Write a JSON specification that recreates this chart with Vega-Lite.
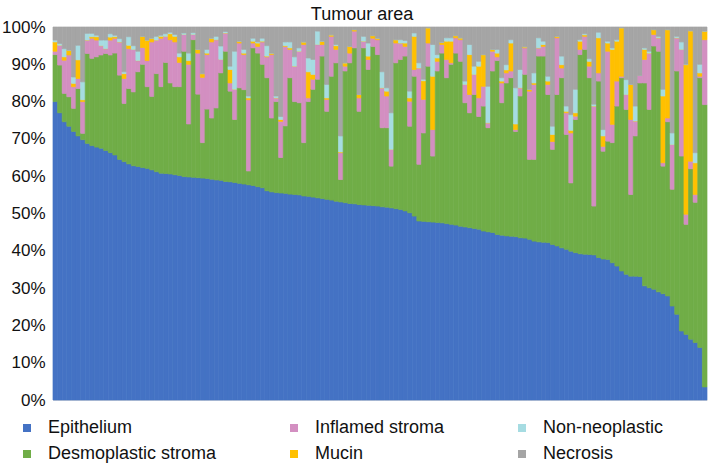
{
  "$schema": "https://vega.github.io/schema/vega-lite/v6.json",
  "autosize": {"type": "none"},
  "width": 654,
  "height": 373,
  "padding": {"left": 53, "top": 27, "right": 2, "bottom": 66},
  "background": "white",
  "config": {"view": {"stroke": null}, "font": "Liberation Sans"},
  "title": {"text": "Tumour area", "fontSize": 18, "fontWeight": "normal", "font": "Liberation Sans", "color": "#111111", "offset": -6, "dx": -18},
  "datasets": {
    "cats": [
      {"k": "e", "label": "Epithelium", "o": 1},
      {"k": "d", "label": "Desmoplastic stroma", "o": 2},
      {"k": "i", "label": "Inflamed stroma", "o": 3},
      {"k": "m", "label": "Mucin", "o": 4},
      {"k": "n", "label": "Non-neoplastic", "o": 5},
      {"k": "x", "label": "Necrosis", "o": 6}
    ],
    "bars": [
      {"id":0,"e":80,"d":12.6,"i":0.9,"m":2.5,"n":0.5,"x":3.5},
      {"id":1,"e":77,"d":12.8,"i":5.3,"m":0,"n":0.5,"x":4.4},
      {"id":2,"e":74.6,"d":7.6,"i":8.9,"m":0.9,"n":2.2,"x":5.8},
      {"id":3,"e":73.4,"d":7.9,"i":11.2,"m":1.3,"n":0,"x":6.2},
      {"id":4,"e":72,"d":6.2,"i":5.8,"m":0.9,"n":1.7,"x":13.4},
      {"id":5,"e":70.8,"d":12.7,"i":2.7,"m":5,"n":3.9,"x":4.9},
      {"id":6,"e":69.8,"d":1.7,"i":8.5,"m":0.5,"n":4.8,"x":14.7},
      {"id":7,"e":68.8,"d":24.1,"i":3.6,"m":0,"n":1.8,"x":1.7},
      {"id":8,"e":68.2,"d":23.4,"i":5.4,"m":0.4,"n":0.9,"x":1.7},
      {"id":9,"e":67.8,"d":24.2,"i":4.5,"m":0.9,"n":0.4,"x":2.2},
      {"id":10,"e":67.5,"d":25,"i":2.5,"m":0,"n":1.5,"x":3.5},
      {"id":11,"e":66.9,"d":26,"i":1.3,"m":0,"n":2.3,"x":3.5},
      {"id":12,"e":66.3,"d":26.2,"i":4,"m":0.8,"n":0.9,"x":1.8},
      {"id":13,"e":65.7,"d":27.3,"i":4,"m":0.4,"n":0.4,"x":2.2},
      {"id":14,"e":64.5,"d":22.6,"i":8.9,"m":0,"n":0.9,"x":3.1},
      {"id":15,"e":63.9,"d":15.6,"i":6.7,"m":1.3,"n":0.5,"x":12},
      {"id":16,"e":63.3,"d":20.2,"i":10.7,"m":0.9,"n":2.3,"x":2.6},
      {"id":17,"e":62.8,"d":19.8,"i":11.4,"m":0,"n":1,"x":5},
      {"id":18,"e":62.6,"d":25.4,"i":3,"m":0,"n":2.5,"x":6.5},
      {"id":19,"e":62.3,"d":27.7,"i":4.5,"m":3,"n":0,"x":2.5},
      {"id":20,"e":62.1,"d":21.9,"i":7,"m":5.5,"n":0,"x":3.5},
      {"id":21,"e":61.7,"d":19.7,"i":14.6,"m":1,"n":0,"x":3},
      {"id":22,"e":61.2,"d":26.3,"i":9,"m":0,"n":1,"x":2.5},
      {"id":23,"e":60.8,"d":23.2,"i":13,"m":0.5,"n":0.3,"x":2.2},
      {"id":24,"e":60.7,"d":29.8,"i":7,"m":0,"n":0.7,"x":1.8},
      {"id":25,"e":60.6,"d":24.4,"i":11.6,"m":1.6,"n":0.4,"x":1.4},
      {"id":26,"e":60.4,"d":23.6,"i":12,"m":1.5,"n":0.5,"x":2},
      {"id":27,"e":60.2,"d":23.8,"i":6.5,"m":1.5,"n":1,"x":7},
      {"id":28,"e":59.9,"d":33.6,"i":4.5,"m":0,"n":0.4,"x":1.6},
      {"id":29,"e":59.8,"d":14.2,"i":16,"m":1,"n":2,"x":7},
      {"id":30,"e":59.7,"d":36.9,"i":1.4,"m":0,"n":0.5,"x":1.5},
      {"id":31,"e":59.6,"d":22.4,"i":11,"m":1,"n":0,"x":6},
      {"id":32,"e":59.5,"d":9.5,"i":17.5,"m":1,"n":0,"x":12.5},
      {"id":33,"e":59.4,"d":18.6,"i":14.6,"m":0.4,"n":1,"x":6},
      {"id":34,"e":59.2,"d":16.4,"i":20.4,"m":1,"n":0,"x":3},
      {"id":35,"e":59,"d":19.3,"i":18.3,"m":0,"n":0.9,"x":2.5},
      {"id":36,"e":58.9,"d":28.8,"i":3.6,"m":0,"n":3.6,"x":5.1},
      {"id":37,"e":58.6,"d":34.9,"i":4.9,"m":0,"n":0.4,"x":1.2},
      {"id":38,"e":58.5,"d":24.3,"i":2.2,"m":3.6,"n":0.9,"x":10.5},
      {"id":39,"e":58.3,"d":16.9,"i":8.1,"m":0,"n":10.2,"x":6.5},
      {"id":40,"e":58.1,"d":25.6,"i":12,"m":0.5,"n":0,"x":3.8},
      {"id":41,"e":57.9,"d":25.3,"i":9.4,"m":0.4,"n":1,"x":6},
      {"id":42,"e":57.7,"d":3.7,"i":19.1,"m":0.5,"n":0.5,"x":18.5},
      {"id":43,"e":57.5,"d":36.9,"i":1.3,"m":0.5,"n":0.8,"x":3},
      {"id":44,"e":57.2,"d":35.8,"i":1.8,"m":0.9,"n":0.3,"x":4},
      {"id":45,"e":56.9,"d":33.1,"i":6,"m":0.2,"n":0.8,"x":3},
      {"id":46,"e":56.1,"d":30.3,"i":5.6,"m":0.2,"n":2.8,"x":5},
      {"id":47,"e":55.8,"d":19.8,"i":17,"m":0.4,"n":0,"x":7},
      {"id":48,"e":55.6,"d":24.4,"i":1,"m":0,"n":0.5,"x":18.5},
      {"id":49,"e":55.5,"d":9.5,"i":9.7,"m":0.5,"n":0.8,"x":24},
      {"id":50,"e":55.4,"d":18.1,"i":21.3,"m":0.2,"n":1,"x":4},
      {"id":51,"e":55.2,"d":31.2,"i":7.6,"m":0.4,"n":1.6,"x":4},
      {"id":52,"e":55.1,"d":24.9,"i":9.5,"m":0,"n":2.5,"x":8},
      {"id":53,"e":55,"d":24.7,"i":13.8,"m":0,"n":0.9,"x":5.6},
      {"id":54,"e":54.7,"d":14.3,"i":26.3,"m":0.7,"n":0,"x":4},
      {"id":55,"e":54.6,"d":25.4,"i":1,"m":7,"n":3.7,"x":8.3},
      {"id":56,"e":54.4,"d":28.9,"i":2.7,"m":1.3,"n":4,"x":8.7},
      {"id":57,"e":54.2,"d":31.8,"i":9.3,"m":0,"n":3.6,"x":1.1},
      {"id":58,"e":54,"d":38.2,"i":3.1,"m":0.9,"n":0,"x":3.8},
      {"id":59,"e":53.8,"d":23.6,"i":3.2,"m":0.4,"n":3.6,"x":15.4},
      {"id":60,"e":53.6,"d":33.2,"i":10.7,"m":0.4,"n":0,"x":2.1},
      {"id":61,"e":53.3,"d":37.1,"i":3.6,"m":1,"n":0.3,"x":4.7},
      {"id":62,"e":53.1,"d":6,"i":7.2,"m":0.2,"n":4.3,"x":29.2},
      {"id":63,"e":52.9,"d":35.3,"i":1.3,"m":0.9,"n":0,"x":9.6},
      {"id":64,"e":52.7,"d":37.7,"i":2.6,"m":1.8,"n":0,"x":5.2},
      {"id":65,"e":52.6,"d":41.8,"i":4.5,"m":0.4,"n":0,"x":0.7},
      {"id":66,"e":52.4,"d":25,"i":3.6,"m":0.9,"n":0,"x":18.1},
      {"id":67,"e":52.3,"d":42.1,"i":1.8,"m":0,"n":1.3,"x":2.5},
      {"id":68,"e":52.2,"d":36.4,"i":2.7,"m":0.9,"n":3.5,"x":4.3},
      {"id":69,"e":52.1,"d":42.7,"i":2.2,"m":0.7,"n":0,"x":2.3},
      {"id":70,"e":52,"d":40.6,"i":4,"m":0.4,"n":0,"x":3},
      {"id":71,"e":51.8,"d":21.2,"i":10.7,"m":0,"n":4.3,"x":12},
      {"id":72,"e":51.7,"d":21.3,"i":8.5,"m":1.3,"n":0.9,"x":16.3},
      {"id":73,"e":51.5,"d":11.2,"i":4.5,"m":0,"n":9.8,"x":23},
      {"id":74,"e":51.3,"d":39.1,"i":5.3,"m":0.9,"n":0,"x":3.4},
      {"id":75,"e":51.1,"d":40.2,"i":4.4,"m":0,"n":0.9,"x":3.4},
      {"id":76,"e":50.7,"d":41.5,"i":2.6,"m":0.9,"n":0.7,"x":3.6},
      {"id":77,"e":50.2,"d":23.2,"i":6.7,"m":0.9,"n":1.8,"x":17.2},
      {"id":78,"e":49.3,"d":37.5,"i":1.8,"m":8.9,"n":0.9,"x":1.6},
      {"id":79,"e":48,"d":15.2,"i":25.8,"m":0,"n":1.4,"x":9.6},
      {"id":80,"e":47.9,"d":23.7,"i":9,"m":5,"n":0.4,"x":14},
      {"id":81,"e":47.8,"d":41.7,"i":6.2,"m":4.1,"n":0,"x":0.2},
      {"id":82,"e":47.7,"d":17.7,"i":7.1,"m":14.3,"n":8.5,"x":4.7},
      {"id":83,"e":47.6,"d":40.6,"i":2.6,"m":0.9,"n":0.9,"x":7.4},
      {"id":84,"e":47.5,"d":45.5,"i":2.3,"m":0.6,"n":0,"x":4.1},
      {"id":85,"e":47.3,"d":39.1,"i":4.9,"m":4.9,"n":0.9,"x":2.9},
      {"id":86,"e":47.1,"d":42.9,"i":0.4,"m":5.8,"n":0.9,"x":2.9},
      {"id":87,"e":46.9,"d":46.1,"i":4.1,"m":0.6,"n":0,"x":2.3},
      {"id":88,"e":46.6,"d":44.2,"i":5.8,"m":0.5,"n":0,"x":2.9},
      {"id":89,"e":46.4,"d":33.3,"i":4.9,"m":0,"n":0.9,"x":14.5},
      {"id":90,"e":46.2,"d":30.8,"i":4.9,"m":10.7,"n":2.7,"x":4.7},
      {"id":91,"e":46,"d":35.9,"i":5.4,"m":0,"n":2.2,"x":10.5},
      {"id":92,"e":45.8,"d":30.2,"i":5,"m":8.5,"n":1.3,"x":9.2},
      {"id":93,"e":45.3,"d":33.5,"i":5.3,"m":8.5,"n":0,"x":7.4},
      {"id":94,"e":45.1,"d":27.9,"i":1.3,"m":0,"n":9.8,"x":15.9},
      {"id":95,"e":44.9,"d":43.3,"i":5.3,"m":0.5,"n":0,"x":6},
      {"id":96,"e":44.4,"d":46.6,"i":1,"m":1,"n":1,"x":6},
      {"id":97,"e":44.2,"d":35.5,"i":5.3,"m":0.5,"n":0.9,"x":13.6},
      {"id":98,"e":44,"d":41,"i":2.7,"m":0.8,"n":1.4,"x":10.1},
      {"id":99,"e":43.9,"d":42.5,"i":1.8,"m":7.5,"n":0.9,"x":3.4},
      {"id":100,"e":43.8,"d":28.2,"i":0.5,"m":1.5,"n":9.7,"x":16.3},
      {"id":101,"e":43.5,"d":38,"i":2.2,"m":0,"n":4.9,"x":11.4},
      {"id":102,"e":43.4,"d":43.9,"i":7.1,"m":0.3,"n":0,"x":5.3},
      {"id":103,"e":43.1,"d":21.4,"i":18.3,"m":0.5,"n":0,"x":16.7},
      {"id":104,"e":42.6,"d":21.9,"i":20.1,"m":0.4,"n":2.7,"x":12.3},
      {"id":105,"e":42.4,"d":49.8,"i":2.2,"m":0,"n":2.7,"x":2.9},
      {"id":106,"e":42.3,"d":49.9,"i":2.6,"m":0.5,"n":0.9,"x":3.8},
      {"id":107,"e":42.2,"d":39.7,"i":2.7,"m":0.9,"n":1.3,"x":13.2},
      {"id":108,"e":41.7,"d":25.5,"i":2.1,"m":1.9,"n":2.2,"x":26.6},
      {"id":109,"e":41.3,"d":40.6,"i":15.2,"m":0.4,"n":0,"x":2.5},
      {"id":110,"e":40.8,"d":45.6,"i":2.6,"m":0.9,"n":2.3,"x":7.8},
      {"id":111,"e":40.4,"d":30.8,"i":5.8,"m":0.4,"n":1.4,"x":21.2},
      {"id":112,"e":39.9,"d":18.3,"i":13.4,"m":0.7,"n":4.2,"x":23.5},
      {"id":113,"e":39.5,"d":35.7,"i":0.9,"m":0.9,"n":6.3,"x":16.7},
      {"id":114,"e":39.2,"d":53.4,"i":1.4,"m":2.2,"n":0.4,"x":3.4},
      {"id":115,"e":39.1,"d":54.9,"i":3.5,"m":0.4,"n":0.3,"x":1.8},
      {"id":116,"e":39,"d":47.4,"i":3.1,"m":1.3,"n":0.7,"x":8.5},
      {"id":117,"e":38.9,"d":13.1,"i":26.8,"m":0,"n":0.5,"x":20.7},
      {"id":118,"e":38.2,"d":47.3,"i":2.2,"m":9.4,"n":1.5,"x":1.4},
      {"id":119,"e":37.8,"d":28.9,"i":1.3,"m":2.8,"n":1.7,"x":27.5},
      {"id":120,"e":37.7,"d":31.7,"i":24.1,"m":2.2,"n":0.5,"x":3.8},
      {"id":121,"e":36.8,"d":32.2,"i":4.9,"m":20.1,"n":0.4,"x":5.6},
      {"id":122,"e":35.9,"d":42.9,"i":6.7,"m":10.7,"n":0.4,"x":3.4},
      {"id":123,"e":34.6,"d":51.8,"i":0.4,"m":13,"n":0,"x":0.2},
      {"id":124,"e":33.7,"d":44.2,"i":4,"m":0,"n":4,"x":14.1},
      {"id":125,"e":33.2,"d":21.9,"i":20.1,"m":9.4,"n":0,"x":15.4},
      {"id":126,"e":33.2,"d":37.6,"i":4,"m":0,"n":4,"x":21.2},
      {"id":127,"e":33.1,"d":51.9,"i":2,"m":0,"n":0,"x":13},
      {"id":128,"e":30.6,"d":54.4,"i":6.3,"m":2.7,"n":0.4,"x":5.6},
      {"id":129,"e":30.1,"d":47.8,"i":15.1,"m":0,"n":0.5,"x":6.5},
      {"id":130,"e":29.7,"d":65.2,"i":3.1,"m":1.3,"n":0,"x":0.7},
      {"id":131,"e":29,"d":64.5,"i":3.6,"m":0,"n":0.4,"x":2.5},
      {"id":132,"e":28.5,"d":34.2,"i":0.9,"m":17.9,"n":1.8,"x":16.7},
      {"id":133,"e":27.9,"d":46.7,"i":1,"m":23.7,"n":0,"x":0.7},
      {"id":134,"e":25.2,"d":31.3,"i":12,"m":0,"n":3.1,"x":28.4},
      {"id":135,"e":23,"d":65.2,"i":8.9,"m":0,"n":0.4,"x":2.5},
      {"id":136,"e":18.5,"d":46.9,"i":28.6,"m":0,"n":2,"x":4},
      {"id":137,"e":17.6,"d":29.5,"i":2.7,"m":40.1,"n":0.1,"x":10},
      {"id":138,"e":16.3,"d":45.7,"i":2,"m":35,"n":0,"x":1},
      {"id":139,"e":15.4,"d":37.6,"i":2.1,"m":8.5,"n":2.7,"x":33.7},
      {"id":140,"e":14.1,"d":72.3,"i":0.4,"m":0.9,"n":2.3,"x":10},
      {"id":141,"e":3.5,"d":75.7,"i":17.4,"m":2.3,"n":0,"x":1.1}
    ]
  },
  "data": {"name": "bars"},
  "transform": [
    {"fold": ["e", "d", "i", "m", "n", "x"], "as": ["k", "v"]},
    {"lookup": "k", "from": {"data": {"name": "cats"}, "key": "k", "fields": ["label", "o"]}}
  ],
  "mark": {"type": "bar", "strokeWidth": 0.7},
  "encoding": {
    "x": {
      "field": "id", "type": "ordinal",
      "scale": {"paddingInner": 0, "paddingOuter": 0},
      "axis": {"labels": false, "ticks": false, "title": null, "domainColor": "#d9d9d9"}
    },
    "y": {
      "field": "v", "type": "quantitative", "stack": "normalize",
      "scale": {"domain": [0, 1]},
      "axis": {
        "title": null, "format": ".0%", "values": [0, 0.1, 0.2, 0.3, 0.4, 0.5, 0.6, 0.7, 0.8, 0.9, 1],
        "ticks": false, "grid": false, "domainColor": "#d9d9d9",
        "labelFont": "Liberation Sans", "labelFontSize": 17, "labelColor": "#111111", "labelPadding": 8
      }
    },
    "color": {
      "field": "label", "type": "nominal",
      "scale": {
        "domain": ["Epithelium", "Inflamed stroma", "Non-neoplastic", "Desmoplastic stroma", "Mucin", "Necrosis"],
        "range": ["#4472C4", "#D38FC1", "#A6DCE2", "#70AD47", "#FFC000", "#A5A5A5"]
      },
      "legend": {
        "title": null, "orient": "none", "legendX": -35, "legendY": 392,
        "direction": "horizontal", "columns": 3, "columnPadding": 68, "rowPadding": 8,
        "symbolType": "square", "symbolSize": 64, "symbolStrokeWidth": 0, "labelOffset": 12, "labelLimit": 400,
        "labelFont": "Liberation Sans", "labelFontSize": 18, "labelColor": "#111111"
      }
    },
    "stroke": {
      "field": "label", "type": "nominal",
      "scale": {
        "domain": ["Epithelium", "Inflamed stroma", "Non-neoplastic", "Desmoplastic stroma", "Mucin", "Necrosis"],
        "range": ["#4472C4", "#D38FC1", "#A6DCE2", "#70AD47", "#FFC000", "#A5A5A5"]
      },
      "legend": null
    },
    "order": {"field": "o", "type": "quantitative"}
  }
}
